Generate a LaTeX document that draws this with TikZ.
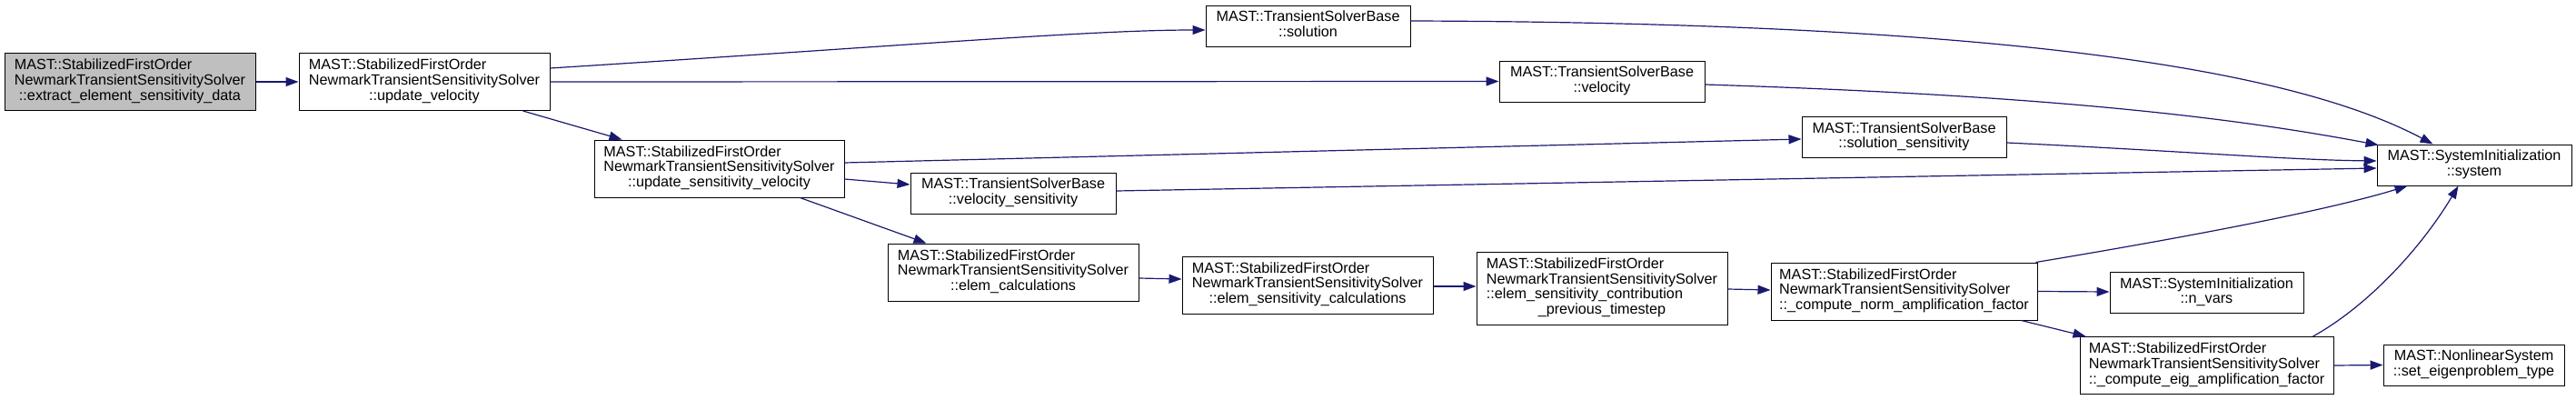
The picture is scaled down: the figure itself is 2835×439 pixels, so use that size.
\documentclass[tikz,border=0pt]{standalone}
\usepackage{fontspec}
\setmainfont{Liberation Sans}
\usetikzlibrary{arrows.meta,calc}
\definecolor{edgec}{HTML}{191970}
\definecolor{greyfill}{HTML}{BFBFBF}
\newcommand{\dlabel}[2]{\begin{tabular}{@{}l@{}}#1\\\multicolumn{1}{@{}c@{}}{#2}\end{tabular}}
\newcommand{\clabel}[2]{\begin{tabular}{@{}c@{}}#1\\#2\end{tabular}}
\begin{document}
\begin{tikzpicture}[x=0.5pt,y=0.5pt,
  fn/.style={draw=black,line width=0.5pt,fill=white,inner sep=0pt,align=center,
    font=\fontsize{8.1}{8.25}\selectfont},
  tall/.style={minimum height=31.5pt},
  short/.style={minimum height=22.5pt},
  edge/.style={draw=edgec,line width=0.6pt,-{Triangle[length=7pt,width=5pt]}}]
\useasboundingbox (0,0) rectangle (2835,-439);
% nodes
\node[fn,tall,fill=greyfill,minimum width=138pt] (n1) at (143,-90)
  {\dlabel{MAST::StabilizedFirstOrder\\NewmarkTransientSensitivitySolver}{::extract\_element\_sensitivity\_data}};
\node[fn,tall,minimum width=138pt] (n2) at (467,-90)
  {\dlabel{MAST::StabilizedFirstOrder\\NewmarkTransientSensitivitySolver}{::update\_velocity}};
\node[fn,tall,minimum width=137.5pt] (n3) at (791.5,-185.5)
  {\dlabel{MAST::StabilizedFirstOrder\\NewmarkTransientSensitivitySolver}{::update\_sensitivity\_velocity}};
\node[fn,short,minimum width=112.5pt] (sol) at (1439.5,-28.5)
  {\clabel{MAST::TransientSolverBase}{::solution}};
\node[fn,short,minimum width=113pt] (vel) at (1763,-89.5)
  {\clabel{MAST::TransientSolverBase}{::velocity}};
\node[fn,short,minimum width=112.5pt] (solsens) at (2095.5,-151)
  {\clabel{MAST::TransientSolverBase}{::solution\_sensitivity}};
\node[fn,short,minimum width=113pt] (velsens) at (1115,-212.5)
  {\clabel{MAST::TransientSolverBase}{::velocity\_sensitivity}};
\node[fn,tall,minimum width=138pt] (elemcalc) at (1115,-299.5)
  {\dlabel{MAST::StabilizedFirstOrder\\NewmarkTransientSensitivitySolver}{::elem\_calculations}};
\node[fn,tall,minimum width=138pt] (esc) at (1439,-313.5)
  {\dlabel{MAST::StabilizedFirstOrder\\NewmarkTransientSensitivitySolver}{::elem\_sensitivity\_calculations}};
\node[fn,minimum height=40pt,minimum width=138pt] (contrib) at (1763,-317)
  {\dlabel{MAST::StabilizedFirstOrder\\NewmarkTransientSensitivitySolver\\::elem\_sensitivity\_contribution}{\_previous\_timestep}};
\node[fn,tall,minimum width=146.5pt] (norm) at (2095.5,-320.5)
  {\dlabel{MAST::StabilizedFirstOrder\\NewmarkTransientSensitivitySolver}{::\_compute\_norm\_amplification\_factor}};
\node[fn,short,minimum width=107pt] (system) at (2723,-181.5)
  {\clabel{MAST::SystemInitialization}{::system}};
\node[fn,short,minimum width=106.5pt] (nvars) at (2428.5,-322)
  {\clabel{MAST::SystemInitialization}{::n\_vars}};
\node[fn,tall,minimum width=139.5pt] (eig) at (2428.5,-402)
  {\dlabel{MAST::StabilizedFirstOrder\\NewmarkTransientSensitivitySolver}{::\_compute\_eig\_amplification\_factor}};
\node[fn,short,minimum width=99.5pt] (seteig) at (2722.5,-401.5)
  {\clabel{MAST::NonlinearSystem}{::set\_eigenproblem\_type}};
% edges
\draw[edge] (n1.east) -- (n2.west);
\draw[edge] ($(n2.east)+(0,15)$) .. controls (1000,-50) and (1200,-33) .. ($(sol.west)+(0,-4.5)$);
\draw[edge] (n2.east) -- (vel.west);
\draw[edge] ($(n2.south east)+(-30,0)$) -- ($(n3.north west)+(31,0)$);
\draw[edge] ($(n3.east)+(0,6.5)$) -- ($(solsens.west)+(0,-2)$);
\draw[edge] ($(n3.east)+(0,-11.5)$) -- ($(velsens.west)+(0,9.5)$);
\draw[edge] ($(n3.south west)+(227,0)$) -- ($(elemcalc.north west)+(43,0)$);
\draw[edge] ($(elemcalc.east)+(0,-6.5)$) -- ($(esc.west)+(0,6.5)$);
\draw[edge] ($(esc.east)+(0,-1.5)$) -- ($(contrib.west)+(0,2)$);
\draw[edge] ($(contrib.east)+(0,-1)$) -- ($(norm.west)+(0,1.5)$);
\draw[edge] (norm.east) -- ($(nvars.west)+(0,1)$);
\draw[edge] ($(norm.south east)+(-18,0)$) -- ($(eig.north west)+(7,0)$);
\draw[edge] (eig.east) -- (seteig.west);
\draw[edge] ($(eig.north west)+(257,0)$) .. controls (2600,-340) and (2660,-280) .. ($(system.south west)+(90,0)$);
\draw[edge] ($(norm.north east)+(-2,0)$) .. controls (2400,-262) and (2560,-232) .. ($(system.south west)+(34,0)$);
\draw[edge] ($(sol.east)+(0,5.5)$) .. controls (2200,-25) and (2520,-75) .. ($(system.north west)+(62,0)$);
\draw[edge] ($(vel.east)+(0,-3.5)$) .. controls (2250,-105) and (2450,-128) .. ($(system.north west)+(2,-1)$);
\draw[edge] ($(solsens.east)+(0,-6)$) .. controls (2400,-166) and (2520,-176) .. ($(system.west)+(0,4.5)$);
\draw[edge] ($(velsens.east)+(0,2.5)$) -- ($(system.west)+(0,-3.5)$);
\end{tikzpicture}
\end{document}
